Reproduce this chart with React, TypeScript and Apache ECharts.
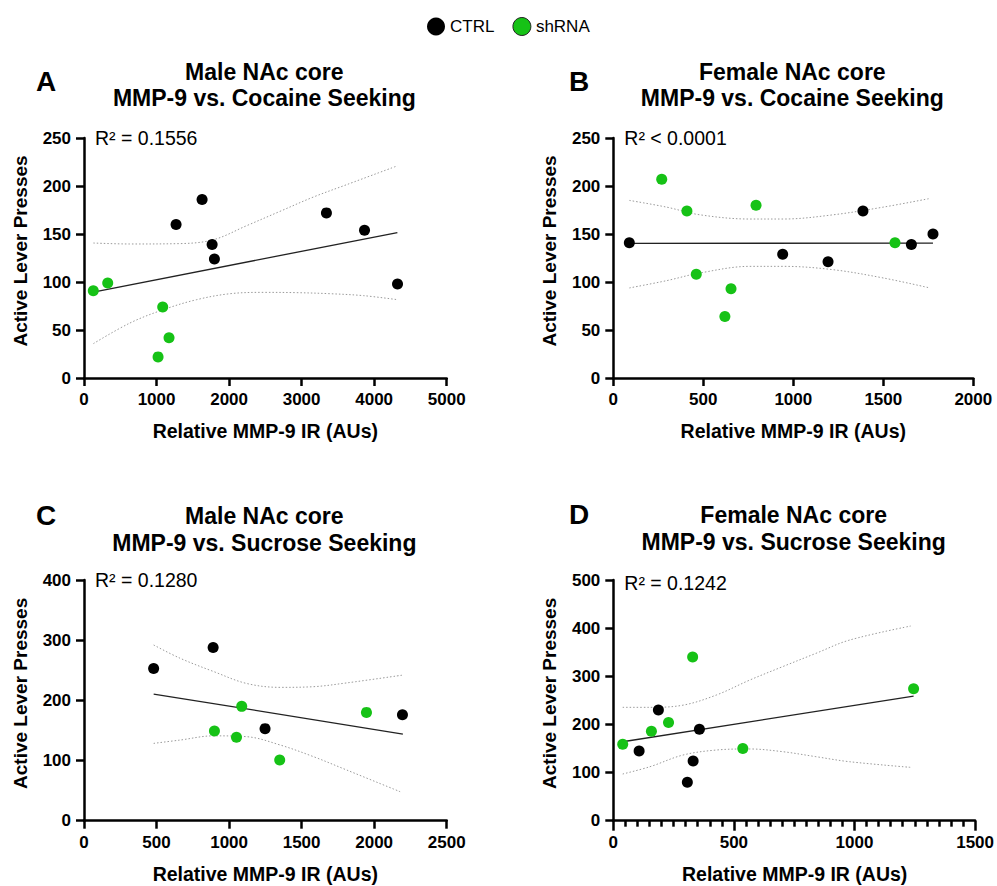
import React, { useEffect, useRef } from "react";
import * as echarts from "echarts";

// ---- data ----
const legendNames = ["CTRL", "shRNA"];

// Panel A: Male NAc core, cocaine
const ctrlA = [[1269, 160], [1628, 186], [1766, 139], [1798, 124], [3342, 172], [3867, 154], [4322, 98]];
const shrnaA = [[128, 91], [327, 99], [1085, 74], [1172, 42], [1021, 22]];
const fitA = [[129, 89.5], [4320, 151.5]];
const upperA = [[129, 140.6], [634, 139.6], [1324, 140], [1783, 144], [2243, 158.7], [2702, 173.6], [3162, 188.5], [3621, 201.4], [4320, 221]];
const lowerA = [[129, 35.8], [634, 57.3], [1094, 71.2], [1553, 81.6], [2013, 87.8], [2472, 89.2], [2932, 88.9], [3392, 87.8], [3851, 85.8], [4320, 81.6]];

// Panel B: Female NAc core, cocaine
const ctrlB = [[89, 141], [941, 129], [1193, 121], [1387, 174], [1656, 139], [1776, 150]];
const shrnaB = [[269, 207], [409, 174], [793, 180], [461, 108], [654, 93], [620, 64], [1565, 141]];
const fitB = [[89, 140.3], [1776, 140.5]];
const upperB = [[89, 185], [296, 178], [481, 170], [759, 165.6], [944, 165.6], [1222, 170], [1500, 178], [1759, 187]];
const lowerB = [[89, 93.8], [296, 101.4], [481, 109.4], [759, 116.3], [944, 116.3], [1222, 112.8], [1500, 104.2], [1759, 93.8]];

// Panel C: Male NAc core, sucrose
const ctrlC = [[480, 253], [890, 288], [1248, 153], [2195, 176]];
const shrnaC = [[1087, 190], [899, 149], [1051, 138.5], [1349, 101], [1947, 180]];
const fitC = [[480, 210.5], [2198, 144]];
const upperC = [[480, 292], [662, 270], [892, 248], [1122, 228], [1352, 221.6], [1582, 222.7], [1811, 229], [2198, 242]];
const lowerC = [[480, 128.5], [662, 134], [892, 141], [1122, 139.6], [1352, 125.8], [1582, 106.4], [1811, 84.2], [2179, 48.2]];

// Panel D: Female NAc core, sucrose
const ctrlD = [[107, 145], [187, 230], [357, 190], [331, 124], [307, 80]];
const shrnaD = [[39, 159], [158, 186], [229, 204], [329, 340], [537, 150], [1245, 274]];
const fitD = [[39, 164], [1245, 259]];
const upperD = [[39, 235.5], [151, 235.5], [289, 240], [427, 261], [565, 292], [702, 320], [840, 347.6], [978, 375], [1233, 404.4]];
const lowerD = [[39, 97], [151, 112], [289, 136.4], [427, 146.8], [565, 149], [702, 143.4], [840, 133], [978, 122.6], [1233, 110.8]];

const panelLetters = ["A", "B", "C", "D"];
const titleLine1 = ["Male NAc core", "Female NAc core", "Male NAc core", "Female NAc core"];
const titleLine2 = [
  "MMP-9 vs. Cocaine Seeking",
  "MMP-9 vs. Cocaine Seeking",
  "MMP-9 vs. Sucrose Seeking",
  "MMP-9 vs. Sucrose Seeking",
];
const r2Labels = ["R² = 0.1556", "R² < 0.0001", "R² = 0.1280", "R² = 0.1242"];
const xMax = [5000, 2000, 2500, 1500];
const xInterval = [1000, 500, 500, 500];
const xMinorSplit = [0, 0, 0, 10]; // panel D has 10 minor divisions per major step
const yMax = [250, 250, 400, 500];
const yInterval = [50, 50, 100, 100];
const yAxisTitle = "Active Lever Presses";
const xAxisTitle = "Relative MMP-9 IR (AUs)";

const panels = [
  { ctrl: ctrlA, sh: shrnaA, fit: fitA, up: upperA, lo: lowerA },
  { ctrl: ctrlB, sh: shrnaB, fit: fitB, up: upperB, lo: lowerB },
  { ctrl: ctrlC, sh: shrnaC, fit: fitC, up: upperC, lo: lowerC },
  { ctrl: ctrlD, sh: shrnaD, fit: fitD, up: upperD, lo: lowerD },
];

// ---- layout ----
const FONT = '"Liberation Sans", Arial, Helvetica, sans-serif';
const GREEN = "#16c216";
const grids = [
  { left: 84, top: 138, width: 362.7, height: 240 },
  { left: 613.3, top: 138, width: 360, height: 240 },
  { left: 84, top: 580, width: 362.7, height: 240.7 },
  { left: 613.3, top: 580, width: 362.7, height: 240.7 },
];
const letterPos = [[46, 81], [579, 81], [46, 515], [579, 514]];
const titleY = [[72, 98], [72, 98], [516, 543], [515, 542]];

export default function App() {
  const ref = useRef<HTMLDivElement>(null);
  useEffect(() => {
    if (!ref.current) return;
    const chart = echarts.init(ref.current, undefined, { renderer: "svg" });

    const axisLine = { show: true, onZero: false, lineStyle: { color: "#000", width: 2.5 } };
    const axisTick = { show: true, length: 8, lineStyle: { color: "#000", width: 2.5 } };
    const axisLabel = {
      color: "#000",
      fontWeight: "bold",
      fontSize: 17,
      fontFamily: FONT,
      margin: 13,
      formatter: (v: number) => String(v),
    };

    const xAxis: any[] = grids.map((_, i) => ({
      type: "value",
      gridIndex: i,
      min: 0,
      max: xMax[i],
      interval: xInterval[i],
      axisLine,
      axisTick: xMinorSplit[i] ? { show: true, length: 10, lineStyle: { color: "#000", width: 2.5 } } : axisTick,
      minorTick: xMinorSplit[i]
        ? { show: true, splitNumber: xMinorSplit[i], length: 6, lineStyle: { color: "#000", width: 2.5 } }
        : { show: false },
      axisLabel,
      splitLine: { show: false },
      minorSplitLine: { show: false },
    }));
    const yAxis = grids.map((_, i) => ({
      type: "value",
      gridIndex: i,
      min: 0,
      max: yMax[i],
      interval: yInterval[i],
      axisLine,
      axisTick,
      axisLabel,
      splitLine: { show: false },
    }));

    const series: any[] = [];
    panels.forEach((p, i) => {
      const band = {
        type: "line",
        xAxisIndex: i,
        yAxisIndex: i,
        showSymbol: false,
        symbol: "none",
        smooth: 0.35,
        lineStyle: { color: "#9a9a9a", width: 1, type: [1.5, 2] },
        z: 2,
        silent: true,
      };
      series.push({ ...band, name: "upper" + i, data: p.up });
      series.push({ ...band, name: "lower" + i, data: p.lo });
      series.push({
        type: "line",
        name: "fit" + i,
        xAxisIndex: i,
        yAxisIndex: i,
        symbol: "none",
        data: p.fit,
        lineStyle: { color: "#222", width: 1.3 },
        z: 3,
        silent: true,
      });
      series.push({
        type: "scatter",
        name: "CTRL",
        xAxisIndex: i,
        yAxisIndex: i,
        symbolSize: 11,
        itemStyle: { color: "#000", opacity: 1 },
        data: p.ctrl,
        z: 5,
      });
      series.push({
        type: "scatter",
        name: "shRNA",
        xAxisIndex: i,
        yAxisIndex: i,
        symbolSize: 11,
        itemStyle: { color: GREEN, opacity: 1 },
        data: p.sh,
        z: 5,
      });
    });

    const txt = (text: string, x: number, y: number, size: number, weight: string, align = "center", rotation = 0) => ({
      type: "text",
      x,
      y,
      rotation,
      style: {
        text,
        fill: "#000",
        fontSize: size,
        fontWeight: weight,
        fontFamily: FONT,
        align,
        textAlign: align,
        verticalAlign: "middle",
        textVerticalAlign: "middle",
      },
    });

    const graphic: any[] = [];
    grids.forEach((g, i) => {
      const cx = g.left + g.width / 2;
      graphic.push(txt(panelLetters[i], letterPos[i][0], letterPos[i][1], 28, "bold"));
      graphic.push(txt(titleLine1[i], cx - 1, titleY[i][0], 23, "bold"));
      graphic.push(txt(titleLine2[i], cx - 1, titleY[i][1], 23, "bold"));
      graphic.push(txt(r2Labels[i], g.left + 11, g.top + (i === 3 ? 3 : 0), 19.5, "normal", "left"));
      graphic.push(txt(yAxisTitle, g.left - 64, g.top + g.height / 2 - 7, 19, "bold", "center", Math.PI / 2));
      graphic.push(txt(xAxisTitle, cx, g.top + g.height + 53, 19.5, "bold"));
    });

    chart.setOption({
      animation: false,
      backgroundColor: "#fff",
      legend: {
        data: [
          { name: legendNames[0], itemStyle: { color: "#000" } },
          { name: legendNames[1], itemStyle: { color: GREEN, borderColor: "#222", borderWidth: 1 } },
        ],
        left: 422,
        top: 12,
        icon: "circle",
        itemWidth: 18,
        itemHeight: 18,
        itemGap: 18,
        textStyle: { color: "#000", fontSize: 17, fontFamily: FONT },
      },
      grid: grids.map((g) => ({ ...g, containLabel: false })),
      xAxis,
      yAxis,
      series,
      graphic,
    });
    return () => chart.dispose();
  }, []);
  return (
    <div
      ref={ref}
      style={{ position: "fixed", left: 0, top: 0, width: 997, height: 886, background: "#fff" }}
    />
  );
}
